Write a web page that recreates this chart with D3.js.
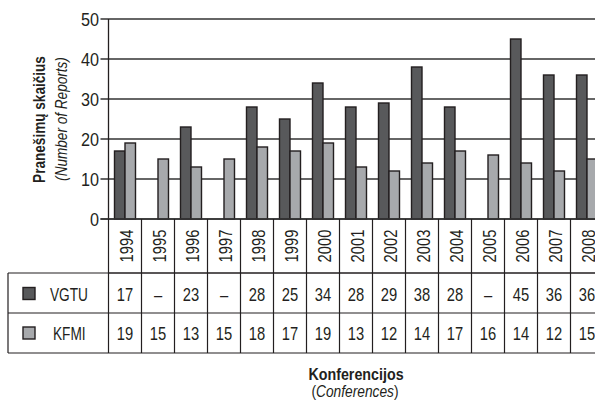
<!DOCTYPE html>
<html><head><meta charset="utf-8">
<script src="https://cdn.jsdelivr.net/npm/d3@7"></script>
<style>
body{margin:0;background:#fff;}
svg{display:block;}
text{font-family:"Liberation Sans",Arial,sans-serif;fill:#231f20;}
</style></head><body>
<svg id="c" width="595" height="402"></svg>
<script>
const years = ["1994","1995","1996","1997","1998","1999","2000","2001","2002","2003","2004","2005","2006","2007","2008"];
const vgtu = [17,null,23,null,28,25,34,28,29,38,28,null,45,36,36];
const kfmi = [19,15,13,15,18,17,19,13,12,14,17,16,14,12,15];
const seriesNames = ["VGTU","KFMI"];
const seriesColors = ["#58595b","#a7a9ac"];
const yTicks = [0,10,20,30,40,50];

const svg = d3.select("#c");
const ink = "#231f20";
const x0 = 108.5, bandW = 33;
const x = d3.scaleBand().domain(years).range([x0, x0 + bandW*years.length]).paddingInner(0).paddingOuter(0);
const y = d3.scaleLinear().domain([0,50]).range([219,19]);
const rowTop = 219, row1 = 273, row2 = 313, row3 = 353, tableLeft = 8;
const barW = 10.5;
// condensed look: horizontal scale along the text direction
const nt = (px,py,rot=0,s=0.8)=>`translate(${px},${py}) rotate(${rot}) scale(${s},1)`;

// gridlines + ticks
const gAxis = svg.append("g");
gAxis.selectAll("line.grid").data(yTicks).join("line")
  .attr("x1", x0-8).attr("x2", 600)
  .attr("y1", d=>y(d)).attr("y2", d=>y(d))
  .attr("stroke", "#333").attr("stroke-width", 1.3);
gAxis.append("line").attr("x1", x0).attr("x2", x0).attr("y1", y(50)).attr("y2", y(0))
  .attr("stroke", ink).attr("stroke-width", 1.3);
gAxis.selectAll("text.tick").data(yTicks).join("text")
  .attr("transform", d=>nt(99, y(d)+6.5, 0, 0.9))
  .attr("text-anchor","end").attr("font-size", 18).text(d=>d);

// bars
const data = years.map((yr,i)=>({yr, v:[vgtu[i], kfmi[i]]}));
const gBars = svg.append("g");
seriesNames.forEach((s,si)=>{
  gBars.selectAll("rect.s"+si).data(data.filter(d=>d.v[si]!=null)).join("rect")
    .attr("x", d=>x(d.yr)+x.bandwidth()/2 - barW + si*barW)
    .attr("y", d=>y(d.v[si]))
    .attr("width", barW).attr("height", d=>y(0)-y(d.v[si]))
    .attr("fill", seriesColors[si]).attr("stroke", ink).attr("stroke-width", 1.4);
});
svg.append("line").attr("x1", x0-8).attr("x2", 600).attr("y1", y(0)).attr("y2", y(0))
  .attr("stroke", "#333").attr("stroke-width", 1.3);

// table
const gT = svg.append("g");
[[x0,row1],[tableLeft,row1],[tableLeft,row2],[tableLeft,row3]].forEach(([xa,yy])=>{
  gT.append("line").attr("x1", xa).attr("x2", 600).attr("y1", yy).attr("y2", yy)
    .attr("stroke", ink).attr("stroke-width", 1.2);
});
gT.append("line").attr("x1", tableLeft).attr("x2", tableLeft).attr("y1", row1).attr("y2", row3)
  .attr("stroke", ink).attr("stroke-width", 1.2);
gT.selectAll("line.v").data(years.concat(["end"])).join("line")
  .attr("x1", (d,i)=>x0 + i*bandW).attr("x2", (d,i)=>x0 + i*bandW)
  .attr("y1", rowTop).attr("y2", row3)
  .attr("stroke", ink).attr("stroke-width", 1.2);
gT.selectAll("text.yr").data(years).join("text")
  .attr("transform", d=>nt(x(d)+x.bandwidth()/2+7.5, (rowTop+row1)/2, -90, 0.82))
  .attr("text-anchor","middle").attr("font-size", 18).text(d=>d);
const rowsBase = [300.5, 340];
[vgtu,kfmi].forEach((arr,si)=>{
  gT.selectAll("text.v"+si).data(arr).join("text")
    .attr("transform", (d,i)=>nt(x(years[i])+x.bandwidth()/2, rowsBase[si], 0, 0.82))
    .attr("text-anchor","middle").attr("font-size", 18)
    .text(d=>d==null ? "–" : d);
});
const legX = [50, 53];
seriesNames.forEach((s,si)=>{
  gT.append("rect").attr("x", 23).attr("y", rowsBase[si]-13).attr("width", 12).attr("height", 12)
    .attr("fill", seriesColors[si]).attr("stroke", ink).attr("stroke-width", 1.4);
  gT.append("text").attr("transform", nt(legX[si], rowsBase[si], 0, 0.72)).attr("font-size", 19).text(s);
});

// axis titles
svg.append("text").attr("transform", nt(45,119.5,-90))
  .attr("text-anchor","middle").attr("font-size", 17).attr("font-weight","bold").text("Pranešimų skaičius");
svg.append("text").attr("transform", nt(67,119,-90))
  .attr("text-anchor","middle").attr("font-size", 17).attr("font-style","italic").text("(Number of Reports)");
svg.append("text").attr("transform", nt(356,380,0,0.84))
  .attr("text-anchor","middle").attr("font-size", 17).attr("font-weight","bold").text("Konferencijos");
const xt2 = svg.append("text").attr("transform", nt(355,397,0,0.86)).attr("text-anchor","middle").attr("font-size", 16);
xt2.append("tspan").text("(");
xt2.append("tspan").attr("font-style","italic").text("Conferences");
xt2.append("tspan").text(")");
</script></body></html>
